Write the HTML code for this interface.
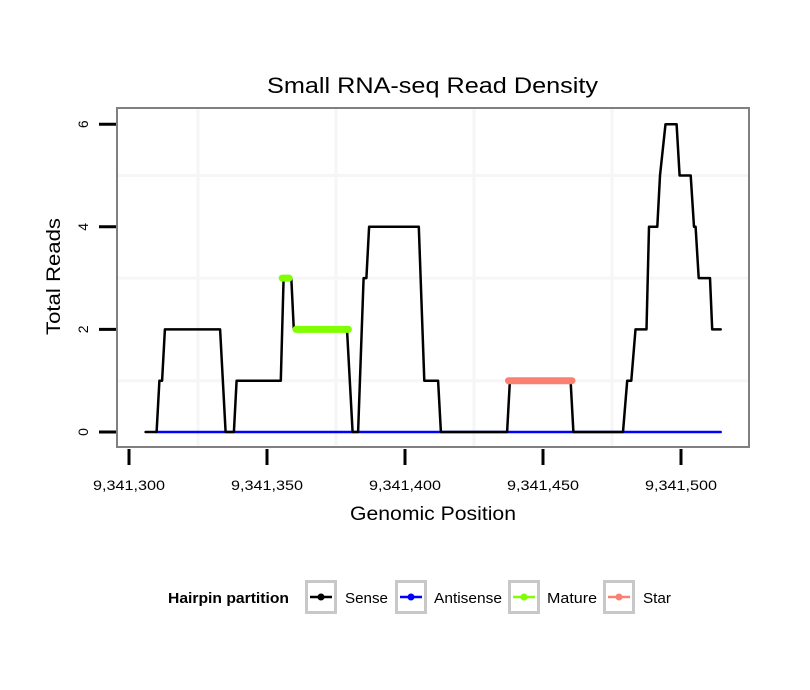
<!DOCTYPE html>
<html><head><meta charset="utf-8"><style>
body{margin:0;background:#fff;}
svg{display:block;font-family:"Liberation Sans",Arial,sans-serif;}
</style></head><body>
<svg id="chart" width="810" height="690">
<rect width="810" height="690" fill="#fff"/>
<text x="267" y="93" font-size="22" textLength="331" lengthAdjust="spacingAndGlyphs">Small RNA-seq Read Density</text>
<g id="grid"></g>
<g id="series"></g>
<rect x="117" y="108" width="632" height="339" fill="none" stroke="#808080" stroke-width="2"/>
<g id="axes"></g>
<text x="350" y="520" font-size="19" textLength="166" lengthAdjust="spacingAndGlyphs">Genomic Position</text>
<text transform="translate(60,335) rotate(-90)" font-size="19" textLength="117" lengthAdjust="spacingAndGlyphs">Total Reads</text>
<g id="legend">
<text x="168" y="603" font-size="15" font-weight="bold" textLength="121" lengthAdjust="spacingAndGlyphs">Hairpin partition</text>
</g>
</svg>
<script>
const xTicks=[9341300,9341350,9341400,9341450,9341500];
const yTicks=[0,2,4,6];
const sensePos=[306,310,311,312,313,333,335,338,339,355,356,358.8,359.7,379,381,383,385,386,387,405,407,412,413,437,438,460,461,479,480.5,482,483.5,487.5,488.4,491.4,492.4,494.4,498.4,499.5,503.5,504.7,505.3,506.4,510.5,511.3,514.4];
const senseVal=[0,0,1,1,2,2,0,0,1,1,3,3,2,2,0,0,3,3,4,4,1,1,0,0,1,1,0,0,1,1,2,2,4,4,5,6,6,5,5,4,4,3,3,2,2];
const antisensePos=[310,514.4];
const antisenseVal=[0,0];
const maturePos=[[355.5,358],[360.5,379.5]];
const matureVal=[3,2];
const starPos=[437.5,460.5];
const starVal=1;
const legendLabels=["Sense","Antisense","Mature","Star"];
const legendColors=["#000000","#0000ff","#7fff00","#fa8072"];

const NS="http://www.w3.org/2000/svg";
const X0=9341300;
function xs(p){ p=p>9000000?p:p+9341000; return 129+(p-X0)*2.76; }
function ys(v){ return 432-v*51.3; }
function mk(tag,attrs,parent){const e=document.createElementNS(NS,tag);for(const k in attrs)e.setAttribute(k,attrs[k]);parent.appendChild(e);return e;}
const grid=document.getElementById('grid'),series=document.getElementById('series'),axes=document.getElementById('axes'),legend=document.getElementById('legend');
mk('rect',{x:117,y:108,width:632,height:339,fill:'#fff'},grid);
[325,375,425,475].forEach(p=>{const l=mk('line',{x1:xs(p),x2:xs(p),y1:108,y2:447,stroke:'#f6f6f6','stroke-width':3},grid);

});
[1,3,5].forEach(v=>{const l=mk('line',{x1:117,x2:749,y1:ys(v),y2:ys(v),stroke:'#f6f6f6','stroke-width':3},grid);

});
function poly(ps,vs,color,w,name){
  const pts=ps.map((p,i)=>xs(p).toFixed(1)+','+ys(vs[i]).toFixed(1)).join(' ');
  const e=mk('polyline',{points:pts,fill:'none',stroke:color,'stroke-width':w,'stroke-linejoin':'round','stroke-linecap':'round'},series);
  
  
}
poly(antisensePos,antisenseVal,'#0000ff',2.5,'antisense-line');
poly(sensePos,senseVal,'#000',2.5,'sense-line');
poly(starPos,[starVal,starVal],'#fa8072',7,'star-line');
maturePos.forEach((seg,i)=>poly(seg,[matureVal[i],matureVal[i]],'#7fff00',7,'mature-line'));
xTicks.forEach(t=>{const x=xs(t);
 const l=mk('line',{x1:x,x2:x,y1:449,y2:465,stroke:'#000','stroke-width':3},axes);
 
 
 const tx=mk('text',{x:x,y:490,'font-size':14,'text-anchor':'middle',textLength:72,lengthAdjust:'spacingAndGlyphs'},axes);
 tx.textContent=t.toLocaleString('en-US');
 
 });
yTicks.forEach(v=>{const y=ys(v);
 const l=mk('line',{x1:99,x2:116,y1:y,y2:y,stroke:'#000','stroke-width':3},axes);
 
 
 const tx=mk('text',{transform:`translate(88,${y}) rotate(-90)`,'font-size':14,'text-anchor':'middle'},axes);
 tx.textContent=v;
 
 });
const boxX=[305,395,508,603],textX=[345,434,547,643],textW=[43,68,50,28];
legendLabels.forEach((lab,i)=>{
 const b=mk('rect',{x:boxX[i]+1.5,y:581.5,width:29,height:31,fill:'#fff',stroke:'#c8c8c8','stroke-width':3},legend);
 
 
 mk('line',{x1:boxX[i]+5,x2:boxX[i]+27,y1:597,y2:597,stroke:legendColors[i],'stroke-width':2.5},legend);
 mk('circle',{cx:boxX[i]+16,cy:597,r:3.5,fill:legendColors[i]},legend);
 const t=mk('text',{x:textX[i],y:603,'font-size':15,textLength:textW[i],lengthAdjust:'spacingAndGlyphs'},legend);
 t.textContent=lab;
 
 
});
</script>
</body></html>
